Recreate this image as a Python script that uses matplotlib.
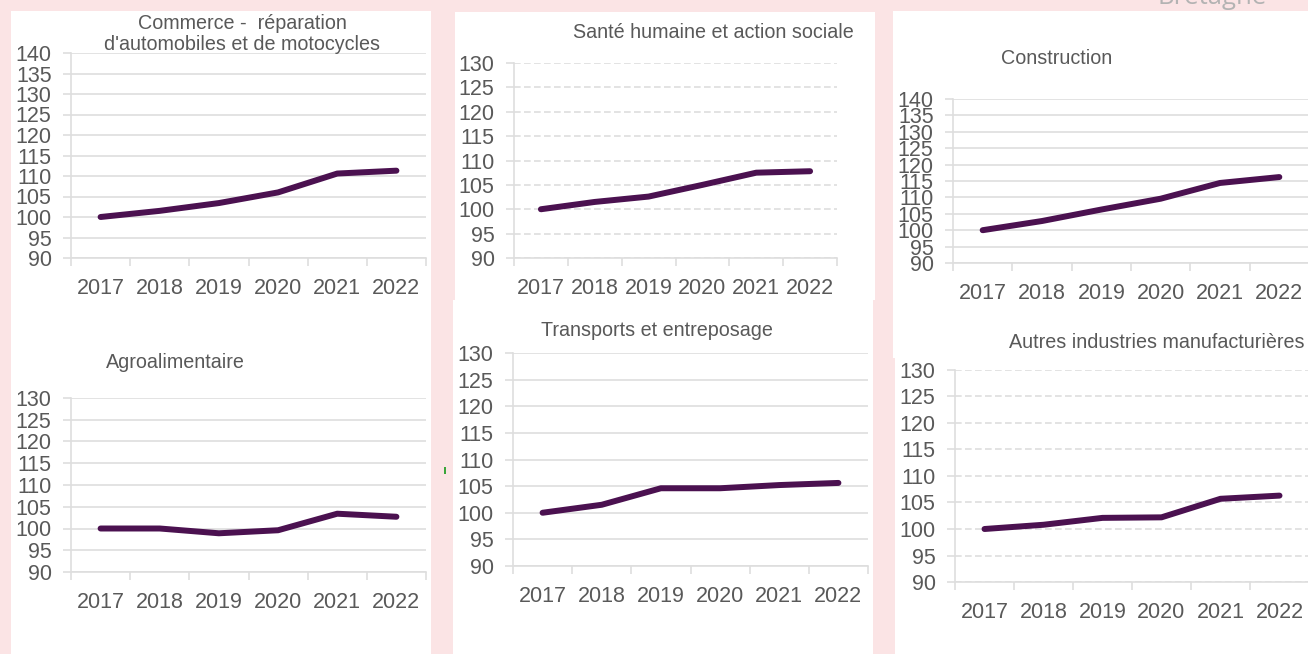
import numpy as np
import matplotlib
matplotlib.use('Agg')
import matplotlib.pyplot as plt
from matplotlib.patches import Rectangle
from matplotlib.ticker import FixedLocator

plt.rcParams['font.family'] = ['Liberation Sans', 'DejaVu Sans']

W, H = 1308, 654

years = ['2017', '2018', '2019', '2020', '2021', '2022']

commerce = [100, 101.5, 103.4, 106.0, 110.6, 111.3]
sante = [100, 101.5, 102.6, 105.0, 107.5, 107.8]
construction = [100, 102.8, 106.3, 109.6, 114.4, 116.2]
agro = [100, 100, 98.9, 99.6, 103.4, 102.7]
transports = [100, 101.5, 104.6, 104.6, 105.2, 105.6]
autres = [100, 100.8, 102.1, 102.2, 105.7, 106.3]

titles = ["Commerce -  réparation\nd'automobiles et de motocycles",
          "Santé humaine et action sociale",
          "Construction",
          "Agroalimentaire",
          "Transports et entreposage",
          "Autres industries manufacturières"]

pink = '#fbe4e5'
line_col = '#4b1150'
grid_col = '#dedede'
txt_col = '#595959'


def box(x0, y0, x1, y1):
    # pixel box (top-left origin) -> figure coords
    return [x0 / W, 1 - y1 / H, (x1 - x0) / W, (y1 - y0) / H]


fig = plt.figure(figsize=(W / 100, H / 100), dpi=100, facecolor=pink)

# white panels
for (x0, y0, x1, y1) in [(11, 11, 431, 654), (455, 12, 875, 300), (453, 300, 873, 654),
                         (893, 11, 1308, 358), (895, 358, 1308, 654)]:
    b = box(x0, y0, x1, y1)
    fig.patches.append(Rectangle((b[0], b[1]), b[2], b[3], transform=fig.transFigure,
                                 facecolor='white', edgecolor='none', zorder=0))
b = box(444, 467, 446, 474)
fig.patches.append(Rectangle((b[0], b[1]), b[2], b[3], transform=fig.transFigure,
                             facecolor='#3aa53a', edgecolor='none', zorder=1))

fig.text(1158 / W, 1 - 4 / H, 'Bretagne', family='Open Sans', fontsize=18.5,
         color='#b3b3b3', ha='left', va='baseline')

panels = [
    (commerce, (71, 53, 426, 258), 140, 'solid', (242, 34)),
    (sante, (514, 63, 837, 258), 130, 'dashed', (713, 33)),
    (construction, (953, 99, 1309, 263), 140, 'solid', (1057, 58)),
    (agro, (71, 398, 426, 572), 130, 'solid', (175, 362)),
    (transports, (513, 353, 868, 566), 130, 'solid', (657, 331)),
    (autres, (955, 370, 1309, 582), 130, 'dashed', (1157, 342)),
]

x = np.arange(len(years))
for i, (vals, pos, ymax, gstyle, tpos) in enumerate(panels):
    ax = fig.add_axes(box(*pos))
    ax.set_zorder(3)
    ax.set_facecolor('none')
    ax.plot(x, vals, color=line_col, lw=4.3, solid_capstyle='round', zorder=3)
    ax.set_xlim(-0.5, 5.5)
    ax.set_ylim(90, ymax)
    ax.set_yticks(np.arange(90, ymax + 1, 5))
    ax.set_xticks(x)
    ax.set_xticklabels(years)
    ax.xaxis.set_minor_locator(FixedLocator(np.arange(-0.5, 6, 1)))
    ax.tick_params(axis='x', which='major', length=0, pad=14.5, labelsize=15.5, labelcolor=txt_col)
    ax.tick_params(axis='x', which='minor', length=6, width=1.2, color=grid_col)
    ax.tick_params(axis='y', length=6, width=1.2, color=grid_col, pad=8,
                   labelsize=15.5, labelcolor=txt_col)
    ax.grid(axis='y', color=grid_col, lw=1.2, ls=(0, (4, 2)) if gstyle == 'dashed' else '-')
    ax.set_axisbelow(True)
    for s in ['top', 'right']:
        ax.spines[s].set_visible(False)
    for s in ['left', 'bottom']:
        ax.spines[s].set_color(grid_col)
        ax.spines[s].set_linewidth(1.2)
    fig.text(tpos[0] / W, 1 - tpos[1] / H, titles[i], fontsize=14.2, color=txt_col,
             ha='center', va='center', linespacing=1.1, zorder=4)

fig.savefig('out.png', dpi=100, facecolor=pink)
